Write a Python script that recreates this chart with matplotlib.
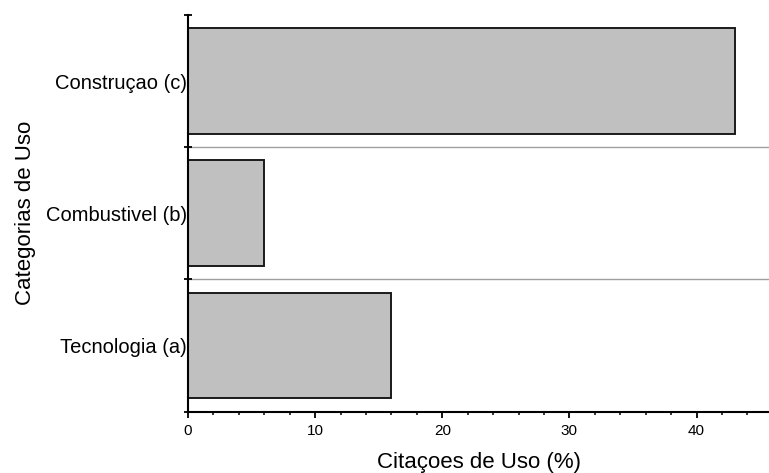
import numpy as np
import matplotlib as mpl
import matplotlib.pyplot as plt
from matplotlib.ticker import MultipleLocator, FixedLocator

mpl.rcParams['font.family'] = ['Liberation Sans', 'DejaVu Sans']

# citation share per use category
categorias = ['Tecnologia (a)', 'Combustivel (b)', 'Construçao (c)']
citacoes = [16, 6, 43]

fig = plt.figure(figsize=(7.69, 4.73), dpi=100)
ax = fig.add_axes([0.2445, 0.130, 0.7555, 0.838])

pos = np.arange(len(categorias))
ax.barh(pos, citacoes, height=0.8, color='#c0c0c0', edgecolor='#1a1a1a', linewidth=1.4)

# thin separators between categories
for y in pos[:-1] + 0.5:
    ax.axhline(y, color='#a0a0a0', linewidth=1.0, zorder=0)

ax.set_xlim(0, 45.7)
ax.set_ylim(-0.5, len(categorias) - 0.5)

for side in ['top', 'right']:
    ax.spines[side].set_visible(False)
for side in ['left', 'bottom']:
    ax.spines[side].set_linewidth(1.5)

# x axis: majors every 10, minors every 2
ax.xaxis.set_major_locator(MultipleLocator(10))
ax.xaxis.set_minor_locator(MultipleLocator(2))
ax.tick_params(axis='x', which='major', direction='out', length=4.5, width=1.3, labelsize=11, pad=4.5)
ax.tick_params(axis='x', which='minor', direction='out', length=2.2, width=1.1)

# y axis: labels at centres, tick marks at the boundaries
ax.set_yticks(pos)
ax.set_yticklabels(categorias)
ax.yaxis.set_minor_locator(FixedLocator(np.arange(len(categorias) + 1) - 0.5))
ax.tick_params(axis='y', which='major', length=0, labelsize=14.5, pad=1)
ax.tick_params(axis='y', which='minor', direction='inout', length=6, width=1.3)

ax.set_xlabel('Citaçoes de Uso (%)', fontsize=16, labelpad=10)
ax.set_ylabel('Categorias de Uso', fontsize=16)
ax.yaxis.set_label_coords(-0.262, 0.5)

fig.savefig('out.png', dpi=100)
